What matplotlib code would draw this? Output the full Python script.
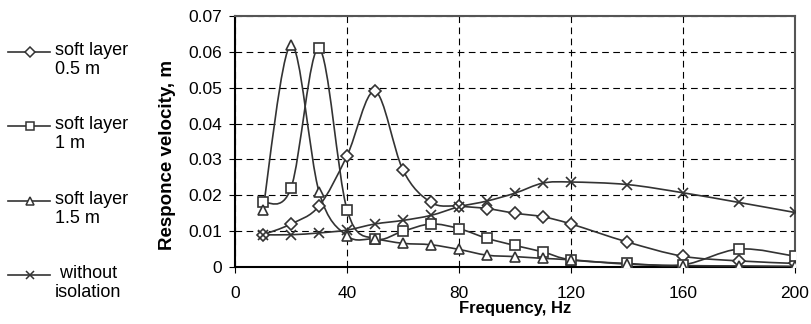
import numpy as np
import matplotlib
matplotlib.use("Agg")
import matplotlib.pyplot as plt
from matplotlib.path import Path
from matplotlib.patches import PathPatch
from matplotlib.lines import Line2D

plt.rcParams['font.family'] = ['Liberation Sans', 'DejaVu Sans']

# frequency points, Hz
freq = [10, 20, 30, 40, 50, 60, 70, 80, 90, 100, 110, 120, 140, 160, 180, 200]

# response velocity, m
soft_05 = [0.009, 0.012, 0.017, 0.031, 0.049, 0.027, 0.018, 0.017, 0.0163, 0.015,
           0.014, 0.012, 0.007, 0.003, 0.0017, 0.001]
soft_10 = [0.018, 0.022, 0.061, 0.016, 0.0079, 0.010, 0.012, 0.0107, 0.008, 0.006,
           0.0042, 0.002, 0.001, 0.0006, 0.005, 0.003]
soft_15 = [0.016, 0.062, 0.021, 0.0087, 0.0078, 0.0066, 0.0062, 0.0049, 0.0033, 0.0029,
           0.0024, 0.002, 0.0008, 0.0004, 0.0003, 0.0002]
no_iso = [0.009, 0.009, 0.0095, 0.0103, 0.012, 0.013, 0.0144, 0.0168, 0.0184, 0.0206,
          0.0234, 0.0237, 0.023, 0.0207, 0.018, 0.0152]

labels = ['soft layer\n0.5 m', 'soft layer\n1 m', 'soft layer\n1.5 m', ' without\nisolation']
markers = ['D', 's', '^', 'x']
msizes = [6, 7.2, 7.2, 7.5]

line_col = '#333333'
W, H = 812, 324


def smooth_path(x, y):
    # Excel-style smoothed line: Catmull-Rom segments as cubic Bezier curves
    x = np.asarray(x, float)
    y = np.asarray(y, float)
    n = len(x)
    verts = [(x[0], y[0])]
    codes = [Path.MOVETO]
    for i in range(n - 1):
        i0 = max(i - 1, 0)
        i3 = min(i + 2, n - 1)
        c1 = (x[i] + (x[i + 1] - x[i0]) / 6, y[i] + (y[i + 1] - y[i0]) / 6)
        c2 = (x[i + 1] - (x[i3] - x[i]) / 6, y[i + 1] - (y[i3] - y[i]) / 6)
        verts += [c1, c2, (x[i + 1], y[i + 1])]
        codes += [Path.CURVE4] * 3
    return Path(verts, codes)


fig = plt.figure(figsize=(W / 100, H / 100), dpi=100)
ax = fig.add_axes([235 / W, 1 - 267 / H, 560 / W, 251 / H])

series = [soft_05, soft_10, soft_15, no_iso]
for vals, mk, ms in zip(series, markers, msizes):
    ax.add_patch(PathPatch(smooth_path(freq, vals), facecolor='none',
                           edgecolor=line_col, lw=1.2, zorder=3))
    ax.plot(freq, vals, linestyle='none', marker=mk, ms=ms, mfc='white',
            mec=line_col, mew=1.2, zorder=4)

ax.set_xlim(0, 200)
ax.set_ylim(0, 0.07)
ax.set_xticks(np.arange(0, 201, 40))
ax.set_yticks(np.arange(0, 0.071, 0.01))
ax.set_yticklabels(['0'] + ['%.2f' % v for v in np.arange(0.01, 0.071, 0.01)])
ax.tick_params(labelsize=12.5, direction='out', length=4, color='black')
ax.tick_params(axis='x', pad=10)
ax.tick_params(axis='y', pad=5)
ax.grid(True, color='black', linestyle=(0, (6, 4)), lw=0.8)
ax.set_axisbelow(True)

for side in ['left', 'bottom']:
    ax.spines[side].set_color('black')
    ax.spines[side].set_linewidth(1.5)
for side in ['top', 'right']:
    ax.spines[side].set_color('#555555')
    ax.spines[side].set_linewidth(1.5)

ax.set_xlabel('Frequency, Hz', fontsize=12, fontweight='bold', labelpad=0)
ax.set_ylabel('Responce velocity, m', fontsize=13.5, fontweight='bold')
ax.yaxis.set_label_coords(-0.106, 0.446)

# legend drawn by hand so the key sits on the first text line
row_y = [52, 126, 201, 275]
for ry, lab, mk, ms in zip(row_y, labels, markers, msizes):
    fy = 1 - ry / H
    fig.add_artist(Line2D([8 / W, 50 / W], [fy, fy], transform=fig.transFigure,
                          color=line_col, lw=1.2))
    fig.add_artist(Line2D([30 / W], [fy], transform=fig.transFigure, linestyle='none',
                          marker=mk, ms=ms * 0.85, mfc='white', mec=line_col, mew=1.1))
    fig.text(55 / W, 1 - (ry - 10) / H, lab, fontsize=13, va='top', ha='left',
             linespacing=1.15)

fig.savefig('out.png', dpi=100)
